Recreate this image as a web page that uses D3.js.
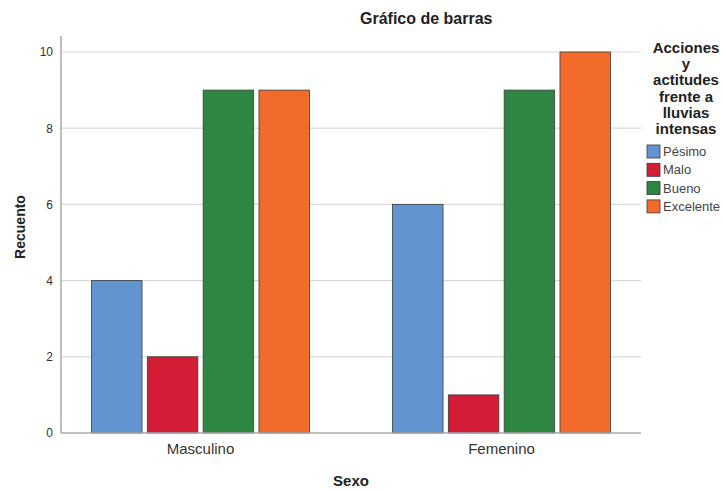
<!DOCTYPE html>
<html><head><meta charset="utf-8">
<script src="https://cdn.jsdelivr.net/npm/d3@7"></script>
<style>body{margin:0;background:#fff;} text{font-family:"Liberation Sans",Arial,sans-serif;}</style>
</head><body><svg id="c" width="725" height="491"></svg>
<script>
const categories = ["Masculino", "Femenino"];
const series = ["Pésimo", "Malo", "Bueno", "Excelente"];
const values = {
  "Pésimo": [4, 6],
  "Malo": [2, 1],
  "Bueno": [9, 9],
  "Excelente": [9, 10]
};
const colors = ["#6194d0", "#d31c36", "#2d8742", "#f26b2b"];
const yTicks = [0, 2, 4, 6, 8, 10];

(function () {
const svg = d3.select("#c");
const pLeft = 61, pRight = 641, pTop = 52, pBottom = 433;
const y = d3.scaleLinear().domain([0, 10]).range([pBottom, pTop]);
const x0 = d3.scaleBand().domain(categories).range([50, 652]).paddingInner(0).paddingOuter(0);
const groupW = 218;
const x1 = d3.scaleBand().domain(series).range([0, groupW]).paddingInner(0.095).paddingOuter(0);

// gridlines
svg.append("g").selectAll("line").data(yTicks.filter(d => d > 0)).join("line")
  .attr("x1", pLeft).attr("x2", pRight).attr("y1", d => y(d)).attr("y2", d => y(d))
  .attr("stroke", "#d9d9d9").attr("stroke-width", 1.2);

// bars
const data = [];
categories.forEach((c, i) => series.forEach((s, j) => data.push({c, s, v: values[s][i], j})));
svg.append("g").selectAll("rect").data(data).join("rect")
  .attr("x", d => x0(d.c) + x0.bandwidth() / 2 - groupW / 2 + x1(d.s))
  .attr("width", x1.bandwidth())
  .attr("y", d => y(d.v)).attr("height", d => y(0) - y(d.v))
  .attr("fill", d => colors[d.j]).attr("stroke", "#3a3a3a").attr("stroke-width", 0.8);

// axes
const yAxis = svg.append("g").attr("transform", `translate(${pLeft},0)`)
  .call(d3.axisLeft(y).tickValues(yTicks).tickSize(0).tickPadding(8).tickFormat(d3.format("d")));
yAxis.select(".domain").remove();
yAxis.selectAll("text").attr("font-size", 12).attr("fill", "#333").attr("font-family", "Liberation Sans, Arial, sans-serif");
svg.append("line").attr("x1", pLeft).attr("x2", pLeft).attr("y1", 36).attr("y2", pBottom)
  .attr("stroke", "#aaa").attr("stroke-width", 1.5);

const xAxis = svg.append("g").attr("transform", `translate(0,${pBottom})`)
  .call(d3.axisBottom(x0).tickSize(0).tickPadding(10));
xAxis.select(".domain").remove();
xAxis.selectAll("text").attr("font-size", 15).attr("fill", "#333").attr("font-family", "Liberation Sans, Arial, sans-serif");
svg.append("line").attr("x1", pLeft).attr("x2", pRight).attr("y1", pBottom).attr("y2", pBottom)
  .attr("stroke", "#aaa").attr("stroke-width", 1.5);

// titles
svg.append("text").attr("x", 360).attr("y", 24).attr("text-anchor", "start")
  .attr("font-size", 16).attr("font-weight", "bold").attr("fill", "#222").text("Gráfico de barras");
svg.append("text").attr("x", (pLeft + pRight) / 2).attr("y", 486).attr("text-anchor", "middle")
  .attr("font-size", 15).attr("font-weight", "bold").attr("fill", "#222").text("Sexo");
svg.append("text").attr("transform", "translate(25,227) rotate(-90)").attr("text-anchor", "middle")
  .attr("font-size", 14).attr("font-weight", "bold").attr("fill", "#222").text("Recuento");

// legend
const titleLines = ["Acciones", "y", "actitudes", "frente a", "lluvias", "intensas"];
svg.append("g").selectAll("text").data(titleLines).join("text")
  .attr("x", 686).attr("y", (d, i) => 53 + i * 16.2).attr("text-anchor", "middle")
  .attr("font-size", 15).attr("font-weight", "bold").attr("fill", "#222").text(d => d);
const lg = svg.append("g").selectAll("g").data(series).join("g")
  .attr("transform", (d, i) => `translate(647,${145 + i * 18.3})`);
lg.append("rect").attr("width", 13).attr("height", 13)
  .attr("fill", (d, i) => colors[i]).attr("stroke", "#3a3a3a").attr("stroke-width", 0.8);
lg.append("text").attr("x", 16).attr("y", 11).attr("font-size", 13).attr("fill", "#444").text(d => d);
})();
</script></body></html>
